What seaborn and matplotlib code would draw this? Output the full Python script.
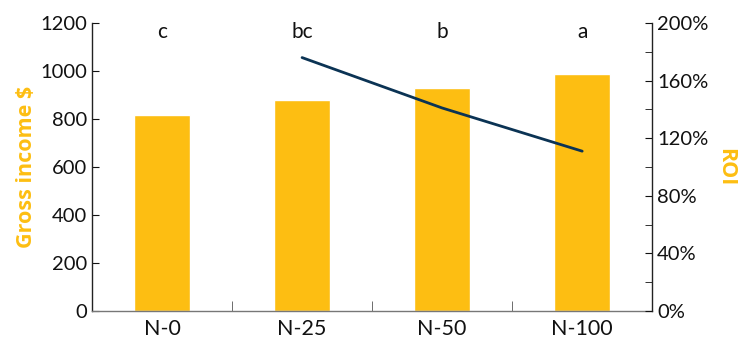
import numpy as np
import seaborn as sns
import matplotlib.pyplot as plt
from matplotlib.ticker import PercentFormatter, MultipleLocator, FixedLocator

# Data
treatments = ['N-0', 'N-25', 'N-50', 'N-100']
gross_income = [816, 879, 929, 987]
roi_pct = [np.nan, 176, 141, 111]
letters = ['c', 'bc', 'b', 'a']

yellow = '#FDBE12'
navy = '#0B3354'

sns.set_style('ticks')
plt.rcParams['font.family'] = ['Lato', 'DejaVu Sans']

fig = plt.figure(figsize=(7.46, 3.4), dpi=100)
ax = fig.add_axes([0.1233, 0.0853, 0.751, 0.847])

sns.barplot(x=treatments, y=gross_income, color=yellow, width=0.4,
            saturation=1, ax=ax)
ax.set_xlim(-0.5, 3.5)
ax.set_ylim(0, 1200)
ax.yaxis.set_major_locator(MultipleLocator(200))
ax.set_ylabel('Gross income $', color=yellow, fontsize=15.5, fontweight='bold',
              family=['Open Sans', 'DejaVu Sans'], labelpad=2)
ax.set_xlabel('')

# letters of significance above the bars
for i, lab in enumerate(letters):
    ax.text(i, 1162, lab, ha='center', va='center', fontsize=15, color='#111111')

ax2 = ax.twinx()
pos = np.arange(len(treatments))
sns.lineplot(x=pos, y=roi_pct, color=navy, linewidth=2, ax=ax2)
ax2.set_ylim(0, 200)
ax2.yaxis.set_major_locator(MultipleLocator(40))
ax2.yaxis.set_minor_locator(MultipleLocator(20))
ax2.yaxis.set_major_formatter(PercentFormatter(100, decimals=0))
ax2.set_ylabel('ROI', color=yellow, fontsize=15.5, fontweight='bold',
               family=['Open Sans', 'DejaVu Sans'], rotation=270, labelpad=20)
ax2.set_xlim(-0.5, 3.5)

# axis styling
for a in (ax, ax2):
    a.spines['top'].set_visible(False)
    a.spines['left'].set_color('#222222')
    a.spines['right'].set_color('#222222')
    a.spines['bottom'].set_color('#777777')
    for s in a.spines.values():
        s.set_linewidth(1)
ax.spines['right'].set_visible(False)
ax2.spines['left'].set_visible(False)
ax2.spines['bottom'].set_visible(False)

ax.tick_params(axis='y', direction='in', length=5, labelsize=14.5, colors='#111111')
ax2.tick_params(axis='y', which='both', direction='in', length=5,
                labelsize=14.5, colors='#111111')
ax.tick_params(axis='x', which='major', length=0, labelsize=15.5,
               colors='#111111', pad=6)
ax.xaxis.set_minor_locator(FixedLocator([0.5, 1.5, 2.5]))
ax.tick_params(axis='x', which='minor', direction='in', length=7,
               color='#555555')

fig.savefig('out.png', dpi=100)
